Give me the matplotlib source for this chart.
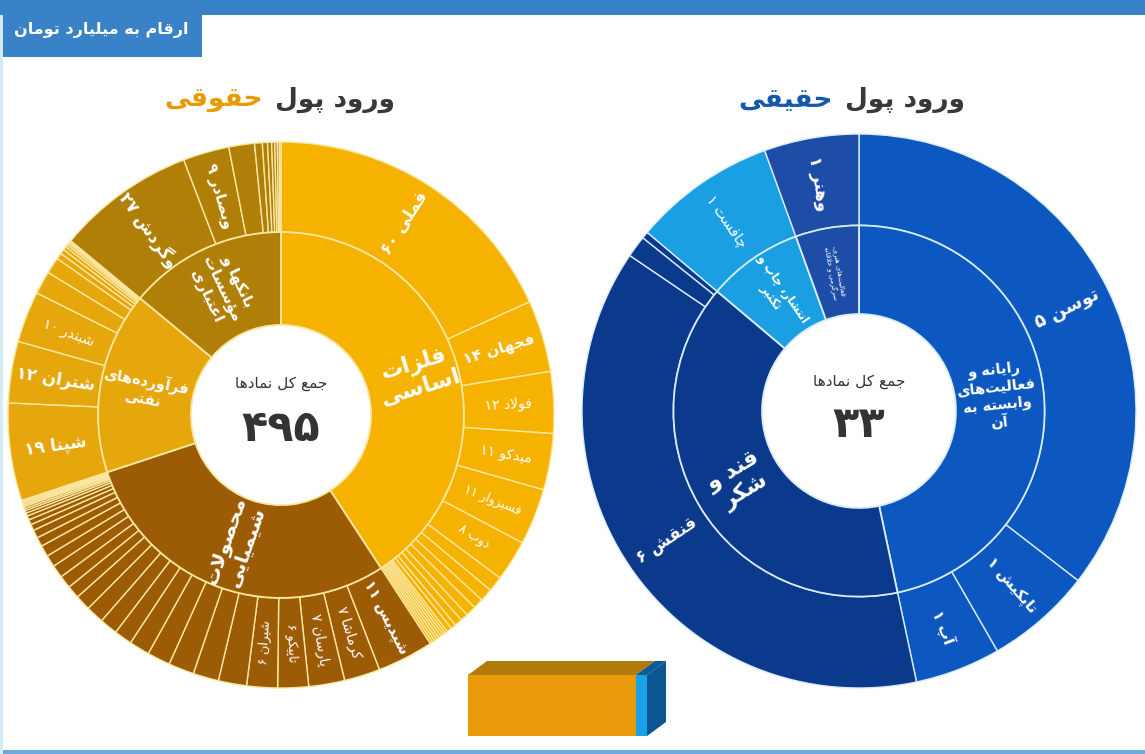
import matplotlib
matplotlib.use('Agg')
import matplotlib.pyplot as plt
from matplotlib.patches import Polygon, Rectangle
import numpy as np

plt.rcParams['font.family'] = ['DejaVu Sans']

# ---------------- data ----------------
banner_text = 'ارقام به میلیارد تومان'
legal_title = ['ورود پول', 'حقوقی']
real_title = ['ورود پول', 'حقیقی']
center_caption = 'جمع کل نمادها'
legal_total = '۴۹۵'
real_total = '۳۳'
box_values = [495, 33]          # حقوقی / حقیقی

# left sunburst (حقوقی)
legal_groups = ['فلزات\nاساسی', 'محصولات\nشیمیایی', 'فرآورده‌های\nنفتی', 'بانکها و\nمؤسسات\nاعتباری']
metals_vals = [60, 14, 12, 11, 11, 8, 3, 2.5, 2, 2, 1.5, 1.5, 1, 1,
               0.5, 0.5, 0.5, 0.5, 0.5, 0.5, 0.5, 0.5]
metals_labels = ['فملی ۶۰', 'فجهان ۱۴', 'فولاد ۱۲', 'میدکو ۱۱', 'فسبزوار ۱۱', 'ذوب ۸']
chem_vals = [11, 7, 7, 6, 6, 5.5, 5, 5, 4.5, 4, 3.5, 3.5, 3.5, 3, 2.5, 2.5, 2.5,
             2.3, 2.2, 1.8, 1.6, 1.2, 1, 0.8, 0.6, 0.5, 0.4, 0.4, 0.3, 0.3, 0.3, 0.2, 0.2]
chem_labels = ['شپدیس ۱۱', 'کرماشا ۷', 'پارسان ۷', 'تاپیکو ۶', 'شیران ۶']
oil_vals = [19, 12, 10, 4.5, 3.2, 1.2, 0.9, 0.7, 0.5, 0.4, 0.3, 0.3]
oil_labels = ['شپنا ۱۹', 'شتران ۱۲', 'شبندر ۱۰']
bank_vals = [27, 9, 5, 1.5, 1, 0.8, 0.6, 0.5, 0.4, 0.3]
bank_labels = ['وگردش ۲۷', 'وبصادر ۹']

# right sunburst (حقیقی)
real_groups = ['رایانه و\nفعالیت‌های\nوابسته به\nآن', 'قند و\nشکر',
               'انتشار، چاپ و\nتکثیر', 'فعالیت‌های هنری،\nسرگرمی و خلاقانه']
it_vals = [5.33, 0.93, 0.75]
it_labels = ['توسن ۵', 'تاپکیش ۱', 'آپ ۱']
sugar_vals = [5.68, 0.19, 0.06]
sugar_labels = ['قنقش ۶']
print_vals = [1.25]
print_labels = ['چافست ۱']
art_vals = [0.83]
art_labels = ['وهنر ۱']

# ---------------- persian shaping (no bidi lib available) ----------------
DUAL = {'ئ': 0xFE89, 'ب': 0xFE8F, 'ت': 0xFE95, 'ث': 0xFE99, 'ج': 0xFE9D, 'ح': 0xFEA1,
        'خ': 0xFEA5, 'س': 0xFEB1, 'ش': 0xFEB5, 'ص': 0xFEB9, 'ض': 0xFEBD, 'ط': 0xFEC1,
        'ظ': 0xFEC5, 'ع': 0xFEC9, 'غ': 0xFECD, 'ف': 0xFED1, 'ق': 0xFED5, 'ك': 0xFED9,
        'ل': 0xFEDD, 'م': 0xFEE1, 'ن': 0xFEE5, 'ه': 0xFEE9, 'ي': 0xFEF1,
        'پ': 0xFB56, 'چ': 0xFB7A, 'ک': 0xFB8E, 'گ': 0xFB92, 'ی': 0xFBFC}
RIGHT = {'آ': 0xFE81, 'أ': 0xFE83, 'ؤ': 0xFE85, 'إ': 0xFE87, 'ا': 0xFE8D, 'ة': 0xFE93,
         'د': 0xFEA9, 'ذ': 0xFEAB, 'ر': 0xFEAD, 'ز': 0xFEAF, 'و': 0xFEED, 'ى': 0xFEEF,
         'ژ': 0xFB8A}
LAM_ALEF = {'ا': 0xFEFB, 'آ': 0xFEF5, 'أ': 0xFEF7, 'إ': 0xFEF9}
DIGITS = set('۰۱۲۳۴۵۶۷۸۹0123456789')


def shape_line(s):
    out = []
    i, n = 0, len(s)
    while i < n:
        c = s[i]
        prev = s[i - 1] if i > 0 else ''
        jp = prev in DUAL
        if c == 'ل' and i + 1 < n and s[i + 1] in LAM_ALEF:
            out.append(chr(LAM_ALEF[s[i + 1]] + (1 if jp else 0)))
            i += 2
            continue
        nxt = s[i + 1] if i + 1 < n else ''
        if c in DUAL:
            jn = nxt in DUAL or nxt in RIGHT
            form = {(False, False): 0, (True, False): 1, (False, True): 2, (True, True): 3}[(jp, jn)]
            out.append(chr(DUAL[c] + form))
        elif c in RIGHT:
            out.append(chr(RIGHT[c] + (1 if jp else 0)))
        elif c == '\u200c':
            pass
        else:
            out.append(c)
        i += 1
    vis = out[::-1]
    res, run = [], []
    for ch in vis:
        if ch in DIGITS:
            run.append(ch)
        else:
            if run:
                res.extend(run[::-1])
                run = []
            res.append(ch)
    res.extend(run[::-1])
    return ''.join(res)


def fa(s):
    return '\n'.join(shape_line(l) for l in s.split('\n'))


def rot(theta):
    # excel-like radial label rotation
    return 90 - theta if theta < 180 else 270 - theta


def sunburst(ax, groups, children, labels, colors, edge, r0, r1,
             out_fs, in_fs, in_r, in_w, txt='white'):
    inner = [sum(c) for c in children]
    outer = [v for c in children for v in c]
    out_cols = [colors[g] for g, c in enumerate(children) for _ in c]
    ax.pie(outer, radius=1, colors=out_cols, startangle=90, counterclock=False,
           wedgeprops=dict(width=1 - r1, edgecolor=edge, linewidth=1.0))
    ax.pie(inner, radius=r1, colors=colors, startangle=90, counterclock=False,
           wedgeprops=dict(width=r1 - r0, edgecolor=edge, linewidth=1.3))
    total = float(sum(outer))

    # outer labels
    start = 0.0
    ro = (1 + r1) / 2
    for g, c in enumerate(children):
        for k, v in enumerate(c):
            if k < len(labels[g]):
                th = (start + v / 2) / total * 360
                t = np.radians(th)
                fs = out_fs[g][k]
                ax.text(ro * np.sin(t), ro * np.cos(t), fa(labels[g][k]),
                        rotation=rot(th), rotation_mode='anchor', ha='center',
                        va='center', color=txt, fontsize=fs,
                        fontweight='bold' if fs >= 11 else 'normal')
            start += v

    # inner labels
    start = 0.0
    for g, v in enumerate(inner):
        th = (start + v / 2) / total * 360
        t = np.radians(th)
        r = in_r[g]
        ax.text(r * np.sin(t), r * np.cos(t), fa(groups[g]), rotation=rot(th),
                rotation_mode='anchor', ha='center', va='center', color=txt,
                fontsize=in_fs[g], fontweight=in_w[g], multialignment='center',
                linespacing=1.15)
        start += v
    ax.set_xlim(-1, 1)
    ax.set_ylim(-1, 1)
    ax.set_aspect('equal')
    ax.axis('off')


W, H = 1145, 754
fig = plt.figure(figsize=(W / 100, H / 100), dpi=100)
fig.patch.set_facecolor('white')

bg = fig.add_axes([0, 0, 1, 1])
bg.set_xlim(0, W)
bg.set_ylim(H, 0)
bg.axis('off')

blue = '#3A82C8'
bg.add_patch(Rectangle((0, 0), W, 15, color=blue, lw=0))
bg.add_patch(Rectangle((0, 0), 202, 57, color=blue, lw=0))
bg.text(101, 30, fa(banner_text), color='white', fontsize=11.5, fontweight='bold',
        ha='center', va='center')
bg.add_patch(Rectangle((0, H - 4), W, 4, color='#6FA8DC', lw=0))
bg.add_patch(Rectangle((0, 15), 3, H, color='#D3ECF7', lw=0))

# titles (two colours, right-to-left)
def title(x_right, y, parts, accent):
    t1 = bg.text(x_right, y, fa(parts[0]), color='#383838', fontsize=19,
                 fontweight='bold', ha='right', va='center')
    bg.annotate(fa(parts[1]), xy=(0, 0.5), xycoords=t1, xytext=(-9, 0),
                textcoords='offset points', color=accent, fontsize=19,
                fontweight='bold', ha='right', va='center')

title(395, 100, legal_title, '#E89B00')
title(965, 100, real_title, '#1358AC')

# left sunburst
cx, cy, R = 281, 415, 273
axl = fig.add_axes([(cx - R) / W, (H - cy - R) / H, 2 * R / W, 2 * R / H])
sunburst(axl, legal_groups,
         [metals_vals, chem_vals, oil_vals, bank_vals],
         [metals_labels, chem_labels, oil_labels, bank_labels],
         ['#F5B300', '#9C5C06', '#E6A70C', '#B07F07'], '#FBE6A0',
         0.33, 0.67,
         [[12, 11, 10, 10, 9, 9], [11, 10, 10, 9, 9], [12, 12, 10], [12, 11]],
         [16, 14, 10.5, 11], [0.52, 0.5, 0.51, 0.51], ['bold'] * 4)
axl.text(0, 0.115, fa(center_caption), ha='center', va='center', fontsize=11, color='#333333')
axl.text(0, -0.05, legal_total, ha='center', va='center', fontsize=31,
         fontweight='bold', color='#333333')

# right sunburst
cx, cy, R = 859, 411, 277
axr = fig.add_axes([(cx - R) / W, (H - cy - R) / H, 2 * R / W, 2 * R / H])
sunburst(axr, real_groups,
         [it_vals, sugar_vals, print_vals, art_vals],
         [it_labels, sugar_labels, print_labels, art_labels],
         ['#0D58C0', '#0B3A8C', '#1AA0E2', '#1E4DA8'], '#D8ECFB',
         0.35, 0.67,
         [[13, 11, 11], [12], [10.5], [12]],
         [10.5, 16, 8.5, 5], [0.5, 0.5, 0.52, 0.51], ['bold', 'bold', 'bold', 'normal'])
axr.text(0, 0.108, fa(center_caption), ha='center', va='center', fontsize=11, color='#333333')
axr.text(0, -0.05, real_total, ha='center', va='center', fontsize=31,
         fontweight='bold', color='#333333')

# 3d stacked box at the bottom
bx0, bx1, by0, by1 = 468, 668, 660, 736
axb = fig.add_axes([bx0 / W, (H - by1) / H, (bx1 - bx0) / W, (by1 - by0) / H])
tot = sum(box_values)
px = tot / 179.0                      # value units per pixel
axb.set_xlim(0, (bx1 - bx0) * px)
axb.set_ylim(0, (by1 - by0) / 61.0)
dx, dy = 19 * px, 14 / 61.0
front = ['#E89A0A', '#1AA0E6']
top = ['#B27A0C', '#0E5A95']
left = np.concatenate([[0], np.cumsum(box_values)[:-1]])
axb.barh(0.5, box_values, left=left, height=1, color=front, lw=0)
for l, v, c in zip(left, box_values, top):
    axb.add_patch(Polygon([(l, 1), (l + dx, 1 + dy), (l + v + dx, 1 + dy), (l + v, 1)],
                          closed=True, color=c, lw=0))
axb.add_patch(Polygon([(tot, 0), (tot + dx, dy), (tot + dx, 1 + dy), (tot, 1)],
                      closed=True, color='#0B5590', lw=0))
axb.axis('off')

fig.savefig('out.png', dpi=100)
